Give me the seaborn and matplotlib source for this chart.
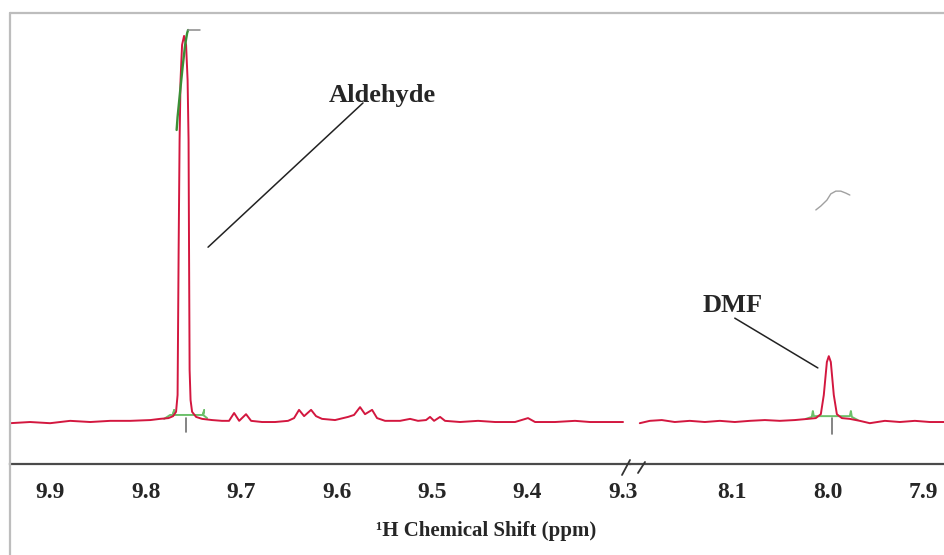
import matplotlib
matplotlib.use("Agg")
import matplotlib.pyplot as plt
from matplotlib.lines import Line2D
from matplotlib.ticker import FixedLocator
import seaborn as sns

# ---- 1H NMR trace, downfield window (ppm, intensity; 100 = full scale) ----
left_ppm = [9.942, 9.921, 9.900, 9.879, 9.858, 9.837, 9.816, 9.795, 9.785, 9.776,
            9.7712, 9.7681, 9.7665, 9.7654, 9.7644, 9.7634, 9.7618, 9.7597, 9.7576,
            9.7560, 9.7550, 9.7545, 9.7539, 9.7529, 9.7513, 9.7471, 9.7408, 9.7304,
            9.7200, 9.7126, 9.7073, 9.7020, 9.6948, 9.6895, 9.6780, 9.6644, 9.6508,
            9.6445, 9.6393, 9.6340, 9.6267, 9.6215, 9.6152, 9.6016, 9.5880, 9.5817,
            9.5754, 9.5702, 9.5628, 9.5576, 9.5492, 9.5335, 9.5230, 9.5147, 9.5063,
            9.5021, 9.4979, 9.4916, 9.4864, 9.4707, 9.4518, 9.4340, 9.4131, 9.3995,
            9.3921, 9.3712, 9.3503, 9.3346, 9.3188, 9.3000]
left_red = [-0.3, 0.0, -0.3, 0.3, 0.0, 0.3, 0.3, 0.5, 0.8, 1.0,
            1.5, 2.6, 6.9, 43.9, 71.9, 87.2, 96.2, 98.5, 96.2,
            87.2, 71.9, 43.9, 13.3, 5.6, 2.6, 1.3, 0.8, 0.5,
            0.3, 0.3, 2.3, 0.3, 2.0, 0.3, 0.0, 0.0, 0.3,
            1.0, 3.1, 1.5, 3.1, 1.5, 0.8, 0.5, 1.3, 1.8,
            3.8, 2.0, 3.1, 1.0, 0.3, 0.3, 0.8, 0.3, 0.5,
            1.3, 0.3, 1.3, 0.3, 0.0, 0.3, 0.0, 0.0, 1.0,
            0.0, 0.0, 0.3, 0.0, 0.0, 0.0]

# ---- upfield window ----
right_ppm = [8.1958, 8.1854, 8.1729, 8.1594, 8.1438, 8.1281, 8.1125, 8.0969, 8.0813,
             8.0656, 8.0500, 8.0344, 8.0208, 8.0125, 8.0073, 8.0042, 8.0010, 7.9990,
             7.9969, 7.9938, 7.9906, 7.9854, 7.9771, 7.9667, 7.9563, 7.9406, 7.9250,
             7.9094, 7.8938, 7.8780]
right_red = [-0.3, 0.3, 0.5, 0.0, 0.3, 0.0, 0.3, 0.0, 0.3,
             0.5, 0.3, 0.5, 0.8, 1.0, 2.0, 6.9, 15.3, 16.8,
             15.3, 6.9, 2.0, 1.0, 0.8, 0.3, -0.3, 0.3, 0.0,
             0.3, 0.0, 0.0]

# ---- second (overlaid) trace: clipped top of the aldehyde signal ----
ald_top_ppm = [9.7675, 9.7665, 9.7639, 9.7612, 9.7586, 9.7565, 9.7555]
ald_top = [74.5, 77.8, 84.2, 90.6, 96.2, 99.2, 100.0]

# baseline segments of the second trace under both signals
ald_base_ppm = [9.7806, 9.7743, 9.7712, 9.7702, 9.7712, 9.7398, 9.7387, 9.7398, 9.7356]
ald_base = [0.8, 1.8, 1.8, 3.0, 1.8, 1.8, 3.0, 1.8, 1.0]
dmf_base_ppm = [8.0229, 8.0167, 8.0156, 8.0146, 7.9771, 7.9760, 7.9750, 7.9688]
dmf_base = [0.8, 1.3, 2.8, 1.5, 1.5, 2.8, 1.3, 0.5]

# peak-pick markers and the cap over the clipped maximum
pick_ppm_left = 9.7576
pick_ppm_right = 7.9958
cap_ppm = [9.7555, 9.7429]
cap_int = [100.0, 100.0]

# small sketch stroke in the upper right
sketch_ppm = [8.0125, 8.0073, 8.0010, 7.9969, 7.9917, 7.9865, 7.9813, 7.9771]
sketch_int = [54.1, 55.1, 56.6, 58.2, 58.9, 58.9, 58.4, 57.9]

left_ticks = [9.9, 9.8, 9.7, 9.6, 9.5, 9.4, 9.3]
left_minor = [9.85, 9.75, 9.65, 9.55, 9.45, 9.35]
right_ticks = [8.1, 8.0, 7.9]
right_minor = [8.15, 8.05, 7.95]

RED = "#d3173f"
GREEN = "#3a8f36"
LIGHT_GREEN = "#6cc06a"
AXIS = "#4a4a4a"

sns.set_style("white")
plt.rcParams["font.family"] = ["Liberation Serif", "DejaVu Serif"]
plt.rcParams["font.weight"] = "bold"

W, H = 945, 555
fig = plt.figure(figsize=(W / 100, H / 100), dpi=100)


def fx(x):
    return x / W


def fy(y):
    return 1 - y / H


top_px, axis_px, split_px = 13, 464, 630
ax_l = fig.add_axes([fx(10), fy(axis_px), fx(split_px - 10), (axis_px - top_px) / H])
ax_r = fig.add_axes([fx(split_px), fy(axis_px), fx(W - split_px), (axis_px - top_px) / H])

ylim = (-10.71, 104.34)


def trace(ax, x, y, color, lw):
    sns.lineplot(x=x, y=y, ax=ax, color=color, lw=lw, sort=False, estimator=None)


# downfield window
trace(ax_l, ald_base_ppm, ald_base, LIGHT_GREEN, 1.4)
trace(ax_l, left_ppm, left_red, RED, 1.4)
trace(ax_l, ald_top_ppm, ald_top, GREEN, 1.7)
trace(ax_l, cap_ppm, cap_int, "#8a8a8a", 1.1)
ax_l.plot([pick_ppm_left, pick_ppm_left], [1.0, -2.6], color="#707070", lw=1.2)

# upfield window
trace(ax_r, dmf_base_ppm, dmf_base, LIGHT_GREEN, 1.4)
trace(ax_r, right_ppm, right_red, RED, 1.4)
ax_r.plot([pick_ppm_right, pick_ppm_right], [1.0, -3.1], color="#707070", lw=1.2)
trace(ax_r, sketch_ppm, sketch_int, "#a0a0a0", 1.0)

ax_l.set_xlim(9.942, 9.2927)
ax_r.set_xlim(8.206, 7.878)

for ax, major, minor in ((ax_l, left_ticks, left_minor), (ax_r, right_ticks, right_minor)):
    ax.set_ylim(*ylim)
    ax.set_facecolor("none")
    for s in ("top", "right", "left"):
        ax.spines[s].set_visible(False)
    ax.spines["bottom"].set_color(AXIS)
    ax.spines["bottom"].set_linewidth(1.6)
    ax.set_yticks([])
    ax.xaxis.set_major_locator(FixedLocator(major))
    ax.xaxis.set_minor_locator(FixedLocator(minor))
    ax.set_xticklabels([f"{v:.1f}" for v in major])
    ax.tick_params(axis="x", which="major", direction="out", length=6, width=1.2,
                   color=AXIS, pad=7, labelsize=17)
    ax.tick_params(axis="x", which="minor", direction="out", length=3.5, width=1.0,
                   color=AXIS)
    for lab in ax.get_xticklabels():
        lab.set_fontweight("bold")
    ax.set_xlabel("")
    ax.set_ylabel("")

# annotations
ax_l.text(9.5524, 83.2, "Aldehyde", ha="center", va="center", fontsize=19,
          fontweight="bold")
ax_l.plot([9.5723, 9.7346], [81.4, 44.6], color="#222222", lw=1.1)
ax_r.text(8.099, 29.6, "DMF", ha="center", va="center", fontsize=19,
          fontweight="bold")
ax_r.plot([8.0969, 8.0104], [26.5, 13.8], color="#222222", lw=1.1)

fig.text(fx(486), fy(531), "\u00b9H Chemical Shift (ppm)", ha="center", va="center",
         fontsize=15, fontweight="bold")

# axis break marks
for (x0, y0, x1, y1) in ((622, 475, 630, 460), (638, 473, 645, 462)):
    fig.add_artist(Line2D([fx(x0), fx(x1)], [fy(y0), fy(y1)], color="#333333", lw=1.3))

# outer frame (left and top edges)
fig.add_artist(Line2D([fx(10), fx(10)], [fy(13), 0], color="#bdbdbd", lw=1.6))
fig.add_artist(Line2D([fx(10), 1], [fy(13), fy(13)], color="#bdbdbd", lw=1.6))

fig.savefig("out.png", dpi=100)
